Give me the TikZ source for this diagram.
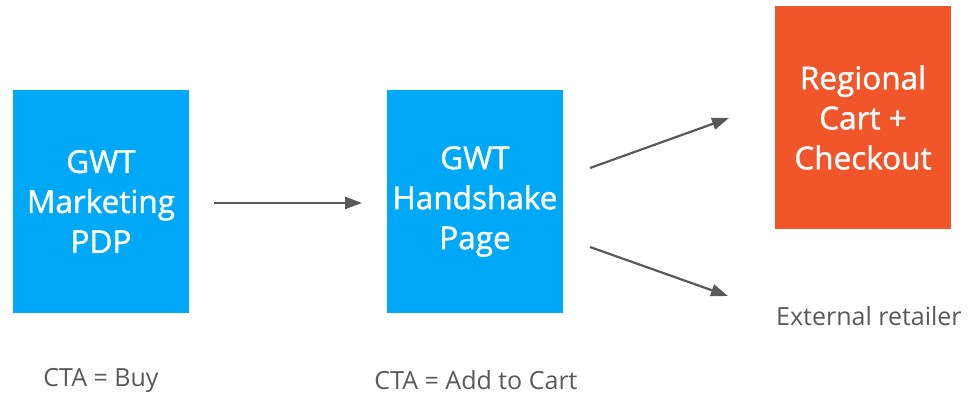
\documentclass[tikz,border=0pt]{standalone}
\usepackage{fontspec}
\setmainfont{Open Sans}
\usetikzlibrary{arrows.meta}
\definecolor{boxblue}{HTML}{00A8F8}
\definecolor{boxorange}{HTML}{F1562B}
\definecolor{arrowgrey}{HTML}{595959}
\begin{document}
\begin{tikzpicture}[x=1pt,y=1pt,
  box/.style={fill=#1,draw=none,minimum width=176pt,minimum height=223pt,inner sep=0pt,
    text=white,align=center,font=\fontsize{31.5}{40}\selectfont\addfontfeatures{FakeBold=1.2}},
  conn/.style={draw=arrowgrey,line width=2.2pt,-{Triangle[length=17pt,width=12pt]}},
  lbl/.style={text=arrowgrey,font=\fontsize{25}{30}\selectfont,inner sep=0pt}]
\useasboundingbox (0,0) rectangle (970,398);
\node[box=boxblue] (pdp) at (101,196.5) {GWT\\Marketing\\PDP};
\node[box=boxblue] (hand) at (475,196.5) {GWT\\Handshake\\Page};
\node[box=boxorange] (cart) at (863,280.5) {Regional\\Cart +\\Checkout};
\coordinate (a1s) at (214,195);
\coordinate (a1e) at (362,195);
\coordinate (a2s) at (590,230);
\coordinate (a2e) at (729,280);
\coordinate (a3s) at (590,151);
\coordinate (a3e) at (728,102);
\draw[conn] (a1s) -- (a1e);
\draw[conn] (a2s) -- (a2e);
\draw[conn] (a3s) -- (a3e);
\node[lbl,anchor=west] (ext) at (776,82) {External retailer};
\node[lbl] (cta1) at (101,18) {CTA = Buy};
\node[lbl] (cta2) at (476,18) {CTA = Add to Cart};
\end{tikzpicture}
\end{document}
